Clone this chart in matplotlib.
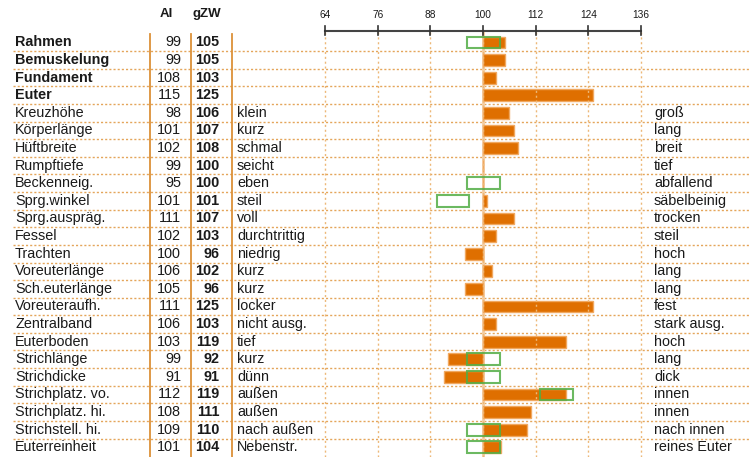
import matplotlib
matplotlib.use('Agg')
import matplotlib.pyplot as plt

plt.rcParams['font.family'] = ['Liberation Sans', 'DejaVu Sans']

# data
traits = ['Rahmen', 'Bemuskelung', 'Fundament', 'Euter', 'Kreuzhöhe', 'Körperlänge',
          'Hüftbreite', 'Rumpftiefe', 'Beckenneig.', 'Sprg.winkel', 'Sprg.auspräg.',
          'Fessel', 'Trachten', 'Voreuterlänge', 'Sch.euterlänge', 'Voreuteraufh.',
          'Zentralband', 'Euterboden', 'Strichlänge', 'Strichdicke', 'Strichplatz. vo.',
          'Strichplatz. hi.', 'Strichstell. hi.', 'Euterreinheit']
ai = [99, 99, 108, 115, 98, 101, 102, 99, 95, 101, 111, 102, 100, 106, 105, 111,
      106, 103, 99, 91, 112, 108, 109, 101]
gzw = [105, 105, 103, 125, 106, 107, 108, 100, 100, 101, 107, 103, 96, 102, 96, 125,
       103, 119, 92, 91, 119, 111, 110, 104]
low_text = ['', '', '', '', 'klein', 'kurz', 'schmal', 'seicht', 'eben', 'steil', 'voll',
            'durchtrittig', 'niedrig', 'kurz', 'kurz', 'locker', 'nicht ausg.', 'tief',
            'kurz', 'dünn', 'außen', 'außen', 'nach außen', 'Nebenstr.']
high_text = ['', '', '', '', 'groß', 'lang', 'breit', 'tief', 'abfallend', 'säbelbeinig',
             'trocken', 'steil', 'hoch', 'lang', 'lang', 'fest', 'stark ausg.', 'hoch',
             'lang', 'dick', 'innen', 'innen', 'nach innen', 'reines Euter']
# optimum ranges (green boxes)
opt_lo = [96.4, None, None, None, None, None, None, None, 96.4, 89.5, None, None, None,
          None, None, None, None, None, 96.4, 96.4, 113, None, 96.4, 96.4]
opt_hi = [103.9, None, None, None, None, None, None, None, 103.9, 96.8, None, None, None,
          None, None, None, None, None, 103.9, 103.9, 120.4, None, 103.9, 103.9]
ticks = [64, 76, 88, 100, 112, 124, 136]
n_bold = 4

W, H = 750, 457
fig = plt.figure(figsize=(W / 100, H / 100), dpi=100)
ax = fig.add_axes([0, 0, 1, 1])
ax.axis('off')

# pixel mapping: 64 -> 325px, 136 -> 641px ; row i centre -> 42.5 + 17.6*i px
ppu = (641 - 325) / 72.0
ax.set_xlim(64 - 325 / ppu, 64 + (W - 325) / ppu)
rh = 17.6
ax.set_ylim((H - 42.5) / rh, -42.5 / rh)

def px(xp):
    return xp / W

def px_data(xp):
    x0, x1 = ax.get_xlim()
    return x0 + px(xp) * (x1 - x0)

orange = '#DF6F00'
grid_c = '#E4A55A'
green = '#52AD45'
txt = '#1a1a1a'
rows = range(len(traits))
y_top = -0.5
y_bot = len(traits) - 0.5 + 0.1

# horizontal dotted row lines
for i in rows[:-1]:
    ax.axhline(i + 0.5, xmin=px(13), xmax=1, color=grid_c, lw=1.0, ls=(0, (1.5, 1.5)), zorder=1)

# vertical grid lines
for t in ticks:
    if t == 100:
        ax.plot([t, t], [y_top - 0.1, y_bot], color='#F4CDA2', lw=2.0, zorder=1)
    ax.plot([t, t], [y_top - 0.1, y_bot], color='#EDB878', lw=1.0, ls=(0, (1.5, 2)), zorder=4)

# bars from 100 to gZW
vals = [g - 100 for g in gzw]
ax.barh(list(rows), vals, left=100, height=0.66, color=orange,
        edgecolor='#F0A860', linewidth=1.0, zorder=3)

# optimum boxes
for i in rows:
    if opt_lo[i] is not None:
        ax.barh(i, opt_hi[i] - opt_lo[i], left=opt_lo[i], height=0.66, facecolor='none',
                edgecolor=green, linewidth=1.5, alpha=0.85, zorder=5)

# axis with ticks
ax.plot([ticks[0], ticks[-1]], [-0.66, -0.66], color='#444444', lw=1.5, zorder=6)
for t in ticks:
    ax.plot([t, t], [-0.92, -0.43], color='#333333', lw=1.2, zorder=6)
    ax.text(t, -1.57, str(t), ha='center', va='center', fontsize=7.3, color=txt)

# table column separators
for xp in [150, 191, 232]:
    ax.plot([px_data(xp)] * 2, [y_top, y_bot], color='#DC9138', lw=1.3, zorder=2)

tr = ax.get_yaxis_transform()
ax.text(px(166), -1.62, 'AI', transform=tr, ha='center', va='center', fontsize=9.5,
        fontweight='bold', color=txt)
ax.text(px(207), -1.62, 'gZW', transform=tr, ha='center', va='center', fontsize=9.5,
        fontweight='bold', color=txt)

fs = 10.4
for i in rows:
    fw = 'bold' if i < n_bold else 'normal'
    ax.text(px(15), i, traits[i], transform=tr, ha='left', va='center', fontsize=fs,
            fontweight=fw, color=txt)
    ax.text(px(181), i, str(ai[i]), transform=tr, ha='right', va='center', fontsize=fs,
            color=txt)
    ax.text(px(219.5), i, str(gzw[i]), transform=tr, ha='right', va='center', fontsize=fs,
            fontweight='bold', color=txt)
    ax.text(px(237), i, low_text[i], transform=tr, ha='left', va='center', fontsize=fs,
            color=txt)
    ax.text(px(654), i, high_text[i], transform=tr, ha='left', va='center', fontsize=fs,
            color=txt)

fig.savefig('out.png', dpi=100)
